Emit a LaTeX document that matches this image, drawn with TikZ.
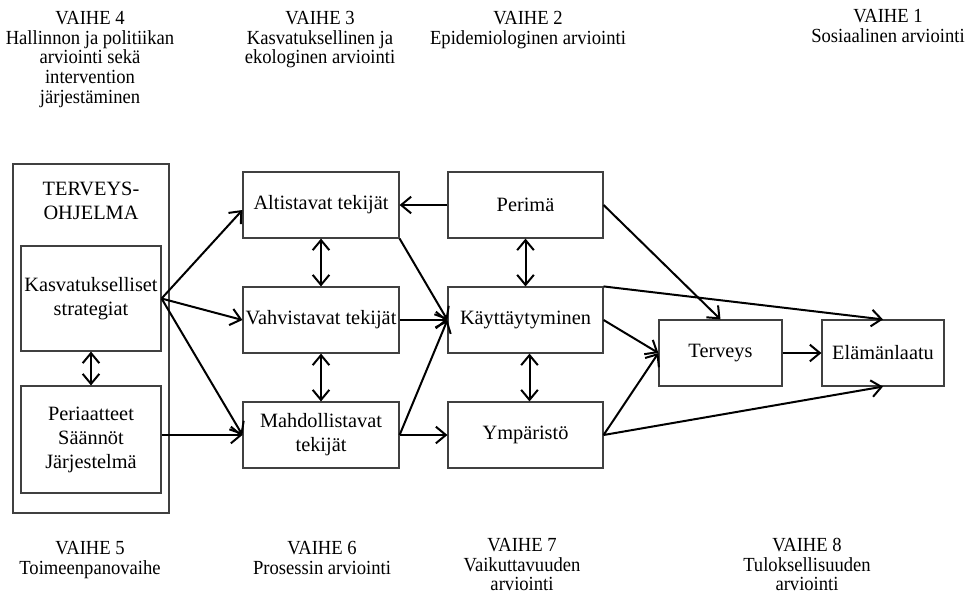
\documentclass[tikz,border=0pt]{standalone}
\usepackage{fontspec}
\setmainfont{Liberation Serif}
\newfontfamily\phasefont[FakeStretch=0.93]{Liberation Serif}
\usetikzlibrary{
arrows.meta,
positioning
}
\tikzset{>={Straight Barb[length=6pt,width=10pt,line width=1.2pt]}}
\tikzset{
	box/.style={draw=black!75, line width=0.7pt, align=center, inner sep=0pt, minimum width=93.6pt, minimum height=39.6pt},
	phase/.style={align=center, inner sep=0pt, anchor=north, font=\phasefont\fontsize{12}{11.8}\selectfont},
	link/.style={->, line width=1.2pt},
	both/.style={<->, line width=1.2pt}
}

\begin{document}
\begin{tikzpicture}[x=0.6pt, y=-0.6pt, every node/.style={font=\fontsize{12.2}{14.4}\selectfont}]
	\useasboundingbox (0,0) rectangle (969,601);
	% phases above
	\node[phase] (v4) at (90,11) {VAIHE 4\\Hallinnon ja politiikan\\arviointi sekä\\intervention\\järjestäminen};
	\node[phase] (v3) at (320,11) {VAIHE 3\\Kasvatuksellinen ja\\ekologinen arviointi};
	\node[phase] (v2) at (528,11) {VAIHE 2\\Epidemiologinen arviointi};
	\node[phase] (v1) at (888,9) {VAIHE 1\\Sosiaalinen arviointi};
	% phases below
	\node[phase] (v5) at (90,541) {VAIHE 5\\Toimeenpanovaihe};
	\node[phase] (v6) at (322,541) {VAIHE 6\\Prosessin arviointi};
	\node[phase] (v7) at (522,538) {VAIHE 7\\Vaikuttavuuden\\arviointi};
	\node[phase] (v8) at (807,538) {VAIHE 8\\Tuloksellisuuden\\arviointi};
	% programme
	\node[box, minimum width=93.6pt, minimum height=209.4pt] (ohjelma) at (91,338.5) {};
	\node[align=center, inner sep=0pt] (otsikko) at (91,201) {TERVEYS-\\OHJELMA};
	\node[box, minimum width=84pt, minimum height=63pt] (kasv) at (91,298.5) {Kasvatukselliset\\strategiat};
	\node[box, minimum width=84pt, minimum height=64.2pt] (peri) at (91,439.5) {Periaatteet\\Säännöt\\Järjestelmä};
	% factors
	\node[box] (alt) at (321,205) {Altistavat tekijät};
	\node[box] (vahv) at (321,320) {Vahvistavat tekijät};
	\node[box] (mahd) at (321,435) {Mahdollistavat\\tekijät};
	\node[box, minimum width=93pt] (perima) at (525.5,205) {Perimä};
	\node[box, minimum width=93pt] (kayt) at (525.5,320) {Käyttäytyminen};
	\node[box, minimum width=93pt] (ymp) at (525.5,435) {Ympäristö};
	\node[box, minimum width=73.8pt] (terv) at (720.5,353) {Terveys};
	\node[box, minimum width=73.2pt] (elama) at (883,353) {Elämänlaatu};
	% arrows
	\draw[both] (kasv) -- (peri);
	\draw[both] (alt) -- (vahv);
	\draw[both] (vahv) -- (mahd);
	\draw[both] (perima) -- (kayt);
	\draw[both] ([xshift=2.4pt]kayt.south) -- ([xshift=2.4pt]ymp.north);
	\draw[link] (kasv.east) -- ([yshift=-3pt]alt.west);
	\draw[link] (kasv.east) -- (vahv.west);
	\draw[link] (kasv.east) -- (mahd.west);
	\draw[link] (peri.east |- mahd.west) -- (mahd.west);
	\draw[link] (perima.west) -- (alt.east);
	\draw[link] (alt.south east) -- (kayt.west);
	\draw[link] (vahv.east) -- (kayt.west);
	\draw[link] (mahd.east) -- (kayt.west);
	\draw[link] (mahd.east) -- (ymp.west);
	\draw[link] (perima.east) -- (terv.north);
	\draw[link] (kayt.north east) -- (elama.north);
	\draw[link] (kayt.east) -- (terv.west);
	\draw[link] (ymp.east) -- (terv.west);
	\draw[link] (ymp.east) -- (elama.south);
	\draw[link] (terv.east) -- (elama.west);
\end{tikzpicture}
\end{document}
